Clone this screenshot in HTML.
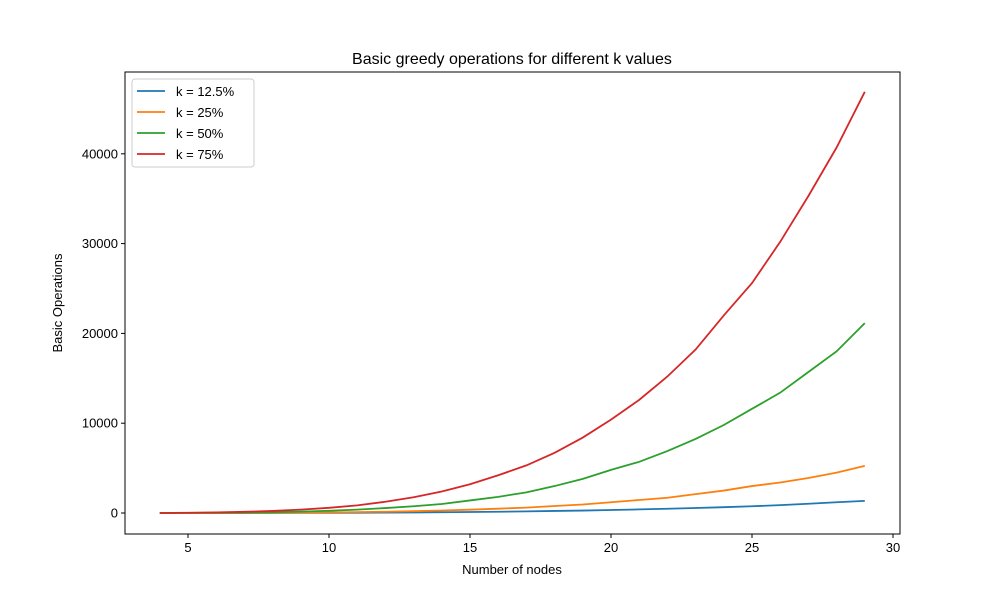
<!DOCTYPE html>
<html><head><meta charset="utf-8"><style>
html,body{margin:0;padding:0;background:#fff;}
svg text{font-family:"Liberation Sans","DejaVu Sans",sans-serif;fill:#000;}
</style></head><body>
<svg id="chart" width="1000" height="600" xmlns="http://www.w3.org/2000/svg">
<rect width="1000" height="600" fill="#fff"/>
<text x="512" y="64" font-size="16" text-anchor="middle">Basic greedy operations for different k values</text>
<g id="plot"></g>
<text x="512" y="574" font-size="13" text-anchor="middle">Number of nodes</text>
<text transform="translate(62,303) rotate(-90)" font-size="13" text-anchor="middle">Basic Operations</text>
</svg>
<script>
const xs = [4,5,6,7,8,9,10,11,12,13,14,15,16,17,18,19,20,21,22,23,24,25,26,27,28,29];
const k125 = [0,1,2,4,8,12,20,30,45,60,80,110,140,180,230,270,330,400,470,560,650,750,880,1030,1200,1350];
const k25 = [0,2,6,12,25,40,65,100,140,200,280,370,480,600,780,950,1200,1450,1700,2100,2500,3000,3400,3900,4500,5250];
const k50 = [0,10,25,50,90,150,250,380,550,750,1000,1400,1800,2300,3000,3800,4800,5700,6900,8250,9800,11600,13400,15700,18000,21150];
const k75 = [0,30,70,130,230,380,580,850,1250,1750,2400,3200,4200,5300,6700,8400,10400,12600,15200,18200,22000,25600,30200,35300,40700,46900];
const seriesNames = ["k = 12.5%","k = 25%","k = 50%","k = 75%"];
const xTicks = [5,10,15,20,25,30];
const yTicks = [0,10000,20000,30000,40000];

const L=125,R=900,T=72,B=534;
const sx = v => 188 + (v-5)*28.2;
const sy = v => 513 - v*0.00898;
const NS="http://www.w3.org/2000/svg";
const g=document.getElementById('plot');
function mk(t,a){const e=document.createElementNS(NS,t);for(const k in a)e.setAttribute(k,a[k]);g.appendChild(e);return e;}

const frame=mk('rect',{x:L,y:T,width:R-L,height:B-T,fill:'none',stroke:'#000','stroke-width':1});



xTicks.forEach(t=>{
  const x=sx(t);
  const tk=mk('line',{x1:x,x2:x,y1:B,y2:B+4,stroke:'#000'});
  
  
  const lb=mk('text',{x:x,y:B+18,'font-size':13,'text-anchor':'middle'});
  lb.textContent=t;
  
  
});
yTicks.forEach(t=>{
  const y=sy(t);
  const tk=mk('line',{x1:L-4,x2:L,y1:y,y2:y,stroke:'#000'});
  
  
  const lb=mk('text',{x:L-7,y:y+4.5,'font-size':13,'text-anchor':'end'});
  lb.textContent=t;
  
  
});

const colors=['#1f77b4','#ff7f0e','#2ca02c','#d62728'];
[k125,k25,k50,k75].forEach((s,i)=>{
  const p=mk('polyline',{points:s.map((v,j)=>sx(xs[j])+','+sy(v)).join(' '),fill:'none',stroke:colors[i],'stroke-width':1.8});
  
  
});

const lg=mk('rect',{x:132,y:79,width:122,height:88,rx:3,fill:'#fff',stroke:'#ccc'});


seriesNames.forEach((n,i)=>{
  const y=91+i*21;
  const ln=mk('line',{x1:137,x2:165,y1:y,y2:y,stroke:colors[i],'stroke-width':1.8});
  
  
  const tx=mk('text',{x:176,y:y+5,'font-size':13});
  tx.textContent=n;
  
  
});
</script>
</body></html>
